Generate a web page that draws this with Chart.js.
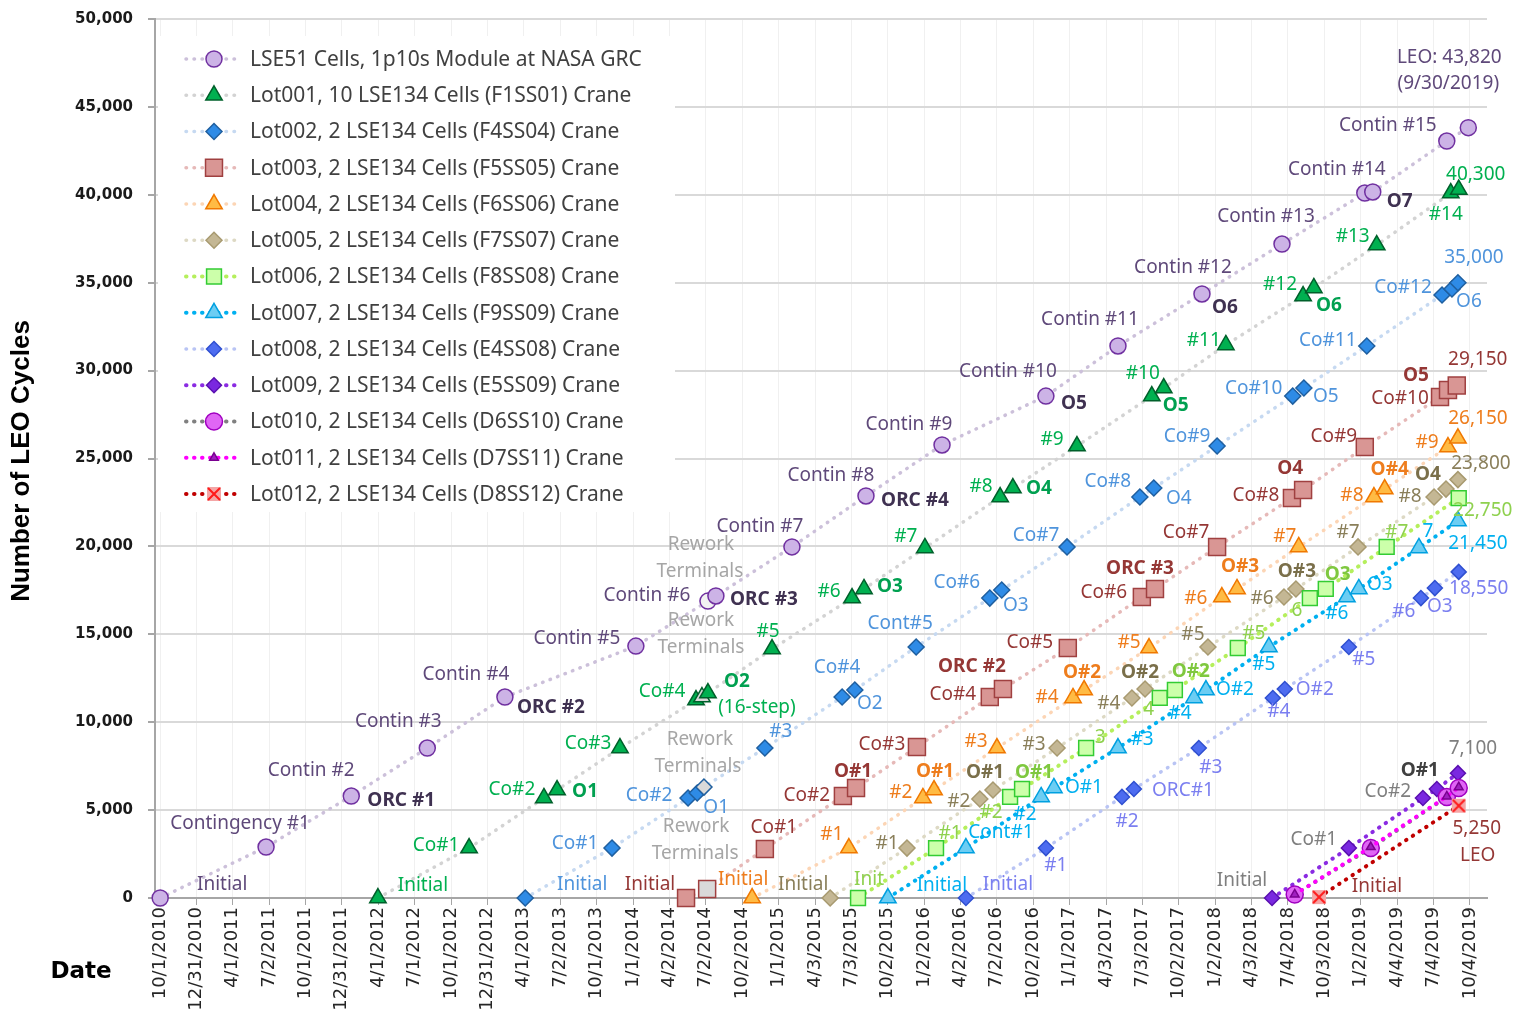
<!DOCTYPE html>
<html>
<head>
<meta charset="utf-8">
<script src="https://cdn.jsdelivr.net/npm/chart.js@4.4.1/dist/chart.umd.min.js"></script>
<style>
  html, body { margin: 0; padding: 0; background: #fff; }
</style>
</head>
<body>
<canvas id="myChart" width="1514" height="1016"></canvas>
<script>
// x values are days counted from 10/1/2010
var tickLabels = ['10/1/2010','12/31/2010','4/1/2011','7/2/2011','10/1/2011','12/31/2011','4/1/2012','7/1/2012',
  '10/1/2012','12/31/2012','4/1/2013','7/2/2013','10/1/2013','1/1/2014','4/2/2014','7/2/2014','10/2/2014',
  '1/1/2015','4/3/2015','7/3/2015','10/2/2015','1/2/2016','4/2/2016','7/2/2016','10/2/2016','1/1/2017',
  '4/3/2017','7/3/2017','10/2/2017','1/2/2018','4/3/2018','7/4/2018','10/3/2018','1/2/2019','4/4/2019',
  '7/4/2019','10/4/2019'];

var seriesNames = [
  'LSE51 Cells, 1p10s Module at NASA GRC',
  'Lot001, 10 LSE134 Cells (F1SS01) Crane',
  'Lot002, 2 LSE134 Cells (F4SS04) Crane',
  'Lot003, 2 LSE134 Cells (F5SS05) Crane',
  'Lot004, 2 LSE134 Cells (F6SS06) Crane',
  'Lot005, 2 LSE134 Cells (F7SS07) Crane',
  'Lot006, 2 LSE134 Cells (F8SS08) Crane',
  'Lot007, 2 LSE134 Cells (F9SS09) Crane',
  'Lot008, 2 LSE134 Cells (E4SS08) Crane',
  'Lot009, 2 LSE134 Cells (E5SS09) Crane',
  'Lot010, 2 LSE134 Cells (D6SS10) Crane',
  'Lot011, 2 LSE134 Cells (D7SS11) Crane',
  'Lot012, 2 LSE134 Cells (D8SS12) Crane'
];

var lse51Days = [0,266,480,671,866,1195,1376,1396,1587,1773,1964,2225,2406,2617,2818,3026,3046,3232,3286];
var lse51Cycles = [0,2900,5800,8530,11430,14330,16890,17180,19970,22870,25770,28550,31400,34360,37200,40100,40160,43060,43820];
var lot001Days = [547,776,964,997,1155,1346,1361,1376,1537,1738,1768,1921,2110,2142,2303,2491,2521,2677,2871,2898,3056,3242,3262];
var lot001Cycles = [0,2840,5690,6140,8530,11260,11430,11660,14160,17060,17580,19910,22810,23320,25710,28550,29010,31460,34240,34700,37140,40100,40300];
var lot002Days = [917,1135,1326,1349,1366,1519,1713,1745,1899,2084,2114,2278,2461,2496,2655,2845,2873,3031,3220,3245,3260];
var lot002Cycles = [0,2840,5690,5970,6310,8530,11430,11830,14280,17060,17520,19970,22810,23320,25710,28550,29010,31400,34300,34640,35000];
var lot003Days = [1321,1374,1519,1715,1748,1901,2084,2117,2280,2466,2499,2655,2843,2871,3026,3215,3235,3257];
var lot003Cycles = [0,510,2790,5800,6260,8590,11430,11890,14220,17120,17580,19970,22750,23210,25650,28500,28900,29150];
var lot004Days = [1487,1730,1916,1944,2102,2293,2321,2484,2667,2705,2860,3049,3076,3235,3260];
var lot004Cycles = [0,2840,5690,6140,8530,11380,11830,14220,17120,17580,19970,22810,23260,25650,26150];
var lot005Days = [1683,1876,2059,2092,2253,2441,2474,2632,2823,2853,3009,3200,3230,3260];
var lot005Cycles = [0,2840,5630,6140,8530,11380,11890,14280,17120,17580,19970,22810,23260,23800];
var lot006Days = [1753,1949,2135,2165,2326,2511,2549,2707,2888,2928,3081,3262];
var lot006Cycles = [0,2840,5750,6200,8530,11380,11830,14220,17060,17580,19970,22750];
var lot007Days = [1828,2024,2213,2245,2406,2597,2627,2785,2981,3011,3162,3260];
var lot007Cycles = [0,2840,5750,6260,8530,11380,11830,14280,17120,17580,19910,21450];
var lot008Days = [2024,2225,2416,2446,2609,2795,2825,2986,3167,3202,3262];
var lot008Cycles = [0,2840,5750,6200,8530,11380,11890,14280,17060,17630,18550];
var lot009Days = [2793,2986,3172,3207,3260];
var lot009Cycles = [0,2840,5690,6200,7100];
var lot010Days = [2850,3041,3232,3262];
var lot010Cycles = [200,2840,5750,6260];
var lot011Days = [2850,3041,3232,3262];
var lot011Cycles = [200,2900,5780,6300];
var lot012Days = [2911,3262];
var lot012Cycles = [50,5250];

// index of the "Rework Terminals" point in each series (-1 = none)
var reworkPoint = [6,6,4,1,-1,-1,-1,-1,-1,-1,-1,-1,-1];

var seriesDays = [lse51Days,lot001Days,lot002Days,lot003Days,lot004Days,lot005Days,lot006Days,lot007Days,lot008Days,lot009Days,lot010Days,lot011Days,lot012Days];
var seriesCycles = [lse51Cycles,lot001Cycles,lot002Cycles,lot003Cycles,lot004Cycles,lot005Cycles,lot006Cycles,lot007Cycles,lot008Cycles,lot009Cycles,lot010Cycles,lot011Cycles,lot012Cycles];

// point text: [series, point, text, dx, dy, bold, color]
var pointLabels = [
  [0,0,'Initial',62,-13],[0,1,'Contingency #1',-26,-23],[0,2,'Contin #2',-40,-25],[0,2,'ORC #1',50,5,1],
  [0,3,'Contin #3',-29,-26],[0,4,'Contin #4',-39,-22],[0,4,'ORC #2',46,11,1],[0,5,'Contin #5',-59,-7],
  [0,6,'Rework',-7,-56,0,'#a6a6a6'],[0,6,'Terminals',-8,-29,0,'#a6a6a6'],[0,7,'Contin #6',-69,0],[0,7,'ORC #3',48,4,1],
  [0,8,'Contin #7',-32,-20],[0,9,'Contin #8',-35,-20],[0,9,'ORC #4',49,5,1],[0,10,'Contin #9',-33,-20],
  [0,11,'Contin #10',-38,-24],[0,11,'O5',28,8,1],[0,12,'Contin #11',-28,-26],[0,13,'Contin #12',-19,-26],
  [0,13,'O6',23,14,1],[0,14,'Contin #13',-16,-27],[0,15,'Contin #14',-28,-23],[0,16,'O7',27,10,1],
  [0,17,'Contin #15',-59,-15],[0,18,'LEO: 43,820',-19,-70],[0,18,'(9/30/2019)',-20,-44],

  [1,0,'Initial',45,-12],[1,1,'Co#1',-33,-2],[1,2,'Co#2',-32,-8],[1,3,'O1',28,2,1],[1,4,'Co#3',-32,-4],
  [1,5,'Co#4',-34,-8],[1,6,'Rework',-1,-76,0,'#a6a6a6'],[1,6,'Terminals',-1,-49,0,'#a6a6a6'],[1,7,'O2',29,-11,1],
  [1,7,'(16-step)',49,15],[1,8,'#5',-4,-17],[1,9,'#6',-23,-6],[1,10,'O3',26,-2,1],[1,11,'#7',-19,-11],
  [1,12,'#8',-19,-10],[1,13,'O4',26,1,1],[1,14,'#9',-25,-6],[1,15,'#10',-9,-22],[1,16,'O5',12,18,1],
  [1,17,'#11',-22,-4],[1,18,'#12',-23,-11],[1,19,'O6',15,18,1],[1,20,'#13',-24,-8],[1,21,'#14',-5,22],
  [1,22,'40,300',17,-15],

  [2,0,'Initial',57,-13],[2,1,'Co#1',-37,-4],[2,2,'Co#2',-39,-2],[2,3,'O1',19,15],
  [2,4,'Rework',-4,-47,0,'#a6a6a6'],[2,4,'Terminals',-6,-20,0,'#a6a6a6'],[2,5,'#3',16,-16],[2,6,'Co#4',-5,-29],
  [2,7,'O2',15,14],[2,8,'Cont#5',-16,-23],[2,9,'Co#6',-33,-15],[2,10,'O3',14,16],[2,11,'Co#7',-31,-11],
  [2,12,'Co#8',-32,-15],[2,13,'O4',25,11],[2,14,'Co#9',-30,-9],[2,15,'Co#10',-39,-7],[2,16,'O5',22,9],
  [2,17,'Co#11',-39,-5],[2,18,'Co#12',-39,-7],[2,20,'O6',11,19],[2,20,'35,000',16,-25],

  [3,0,'Initial',-36,-13],[3,1,'Rework',-11,-62,0,'#a6a6a6'],[3,1,'Terminals',-12,-35,0,'#a6a6a6'],
  [3,2,'Co#1',9,-21],[3,3,'Co#2',-36,0],[3,4,'O#1',-3,-16,1],[3,5,'Co#3',-35,-2],[3,6,'Co#4',-37,-2],
  [3,7,'ORC #2',-31,-22,1],[3,8,'Co#5',-38,-5],[3,9,'Co#6',-38,-4],[3,10,'ORC #3',-15,-20,1],
  [3,11,'Co#7',-31,-14],[3,12,'Co#8',-36,-2],[3,13,'O4',-13,-21,1],[3,14,'Co#9',-31,-10],
  [3,15,'Co#10',-40,2],[3,16,'O5',-32,-14,1],[3,17,'29,150',21,-26],

  [4,0,'Initial',-9,-18],[4,1,'#1',-17,-13],[4,2,'#2',-22,-5],[4,3,'O#1',1,-18,1],[4,4,'#3',-21,-6],
  [4,5,'#4',-26,0],[4,6,'O#2',-2,-17,1],[4,7,'#5',-20,-5],[4,8,'#6',-26,2],[4,9,'O#3',3,-22,1],
  [4,10,'#7',-14,-10],[4,11,'#8',-22,-1],[4,12,'O#4',5,-19,1],[4,13,'#9',-21,-4],[4,14,'26,150',20,-20],

  [5,0,'Initial',-27,-13],[5,1,'#1',-20,-4],[5,2,'#2',-21,3],[5,3,'O#1',-8,-17,1],[5,4,'#3',-23,-3],
  [5,5,'#4',-23,6],[5,6,'O#2',-5,-16,1],[5,7,'#5',-15,-12],[5,8,'#6',-22,2],[5,9,'O#3',1,-17,1],
  [5,10,'#7',-10,-14],[5,11,'#8',-24,0],[5,12,'O4',-18,-14,1],[5,13,'23,800',23,-16],

  [6,0,'Init',11,-18],[6,1,'#1',14,-14],[6,2,'#2',-19,16],[6,3,'O#1',12,-16,1],[6,4,'3',14,-10],
  [6,5,'4',-11,12],[6,6,'O#2',16,-18,1],[6,7,'#5',16,-14],[6,8,'6',-13,13],[6,9,'O3',12,-14,1],
  [6,10,'#7',10,-14],[6,11,'22,750',24,13],

  [7,0,'Initial',54,-12],[7,1,'Cont#1',35,-15],[7,2,'#2',-16,18],[7,3,'O#1',30,0],[7,4,'#3',24,-8],
  [7,5,'#4',-14,16],[7,6,'O#2',29,0],[7,7,'#5',-5,18],[7,8,'#6',-10,17],[7,9,'O3',21,-4],
  [7,10,'7',9,-16],[7,11,'21,450',20,23],

  [8,0,'Initial',42,-13],[8,1,'#1',10,18],[8,2,'#2',5,25],[8,3,'ORC#1',49,2],[8,4,'#3',12,20],
  [8,5,'#4',6,14],[8,6,'O#2',30,1],[8,7,'#5',15,13],[8,8,'#6',-17,14],[8,9,'O3',5,19],[8,10,'18,550',20,17],

  [9,0,'Initial',-30,-17],[9,1,'Co#1',-35,-8],[9,2,'Co#2',-35,-6],[9,3,'O#1',-17,-18,1,'#404040'],[9,4,'7,100',15,-25],

  [12,0,'Initial',58,-11],[12,1,'5,250',18,23],[12,1,'LEO',19,50]
];

// styles
var lineColors = ['#ccc0da','#d3d3d3','#c6d9f1','#e6b9b8','#fcd5b5','#ddd9c4','#b5ef5c','#00b0f0','#b9c4f4','#8a2be2','#808080','#ff00ff','#c00000'];
var lineWidths = [3.5,3.5,3.5,3.5,3.5,3.5,4,4,3.5,4,4,4,4];
var markerFill = ['#ccb3e6','#00b050','#2e8be6','#d99694','#ffbb44','#c4b794','#ccffaa','#6ccdf3','#4d6cf0','#7a28e0','#e066f5','#a020c0',null];
var markerBorder = ['#7030a0','#00602b','#1f5f9f','#a04040','#f07800','#a89a70','#33cc33','#00a0e0','#3050d0','#5a10b0','#a000c0','#7a0090','#ff0000'];
var markerStyle = ['circle','triangle','rectRot','rect','triangle','rectRot','rect','triangle','rectRot','rectRot','circle','triangle',null];
var markerRadius = [8,9.5,8,12,9.5,8,10.5,9.5,7.5,7.5,8.5,5,8];
var labelColors = ['#5f497a','#00b050','#4f94dc','#953735','#ee7d1d','#8a7f5a','#8fd14f','#00b0f0','#7b7ff0','#7f7f7f','#7f7f7f','#7f7f7f','#953735'];
var boldColors = ['#3f3151','#00a050','#4f94dc','#953735','#ee7d1d','#7a6f4a','#7fc83f','#00b0f0','#7b7ff0','#404040','#404040','#404040','#953735'];

// red x marker with light fill for Lot012
var xMark = document.createElement('canvas');
xMark.width = 16; xMark.height = 16;
var xc = xMark.getContext('2d');
xc.fillStyle = '#f4a6a6';
xc.fillRect(1, 1, 14, 14);
xc.strokeStyle = '#ff1a1a';
xc.lineWidth = 2;
xc.beginPath();
xc.moveTo(2, 2); xc.lineTo(14, 14);
xc.moveTo(14, 2); xc.lineTo(2, 14);
xc.stroke();
markerStyle[12] = xMark;

var DAY0 = Date.UTC(2010, 9, 1);
function dayOf(s) {
  var p = s.split('/');
  return Math.round((Date.UTC(+p[2], +p[0] - 1, +p[1]) - DAY0) / 86400000);
}
var tickDays = tickLabels.map(dayOf);

var datasets = seriesNames.map(function(name, i) {
  var days = seriesDays[i];
  return {
    label: name,
    data: days.map(function(d, j) { return { x: d, y: seriesCycles[i][j] }; }),
    borderColor: lineColors[i],
    borderWidth: lineWidths[i],
    borderDash: [0.5, 7.5],
    borderCapStyle: 'round',
    pointStyle: markerStyle[i],
    pointRadius: markerRadius[i],
    pointHoverRadius: markerRadius[i],
    pointBackgroundColor: days.map(function(d, j) {
      if (j === reworkPoint[i]) return i === 0 ? '#f2f2f2' : '#d9d9d9';
      return markerFill[i] || 'rgba(0,0,0,0)';
    }),
    pointBorderColor: markerBorder[i],
    pointBorderWidth: 1.5,
    legendFill: markerFill[i] || 'rgba(0,0,0,0)',
    fill: false,
    tension: 0,
    clip: false,
    order: -i
  };
});

var boxLegend = {
  id: 'boxLegend',
  beforeDatasetsDraw: function(chart) {
    var ctx = chart.ctx;
    ctx.save();
    ctx.fillStyle = '#ffffff';
    ctx.fillRect(158, 36, 675 - 158, 512 - 36);
    chart.data.datasets.forEach(function(ds, i) {
      var y = 59 + i * 36.25;
      ctx.save();
      ctx.strokeStyle = ds.borderColor;
      ctx.lineWidth = ds.borderWidth;
      ctx.lineCap = 'round';
      ctx.setLineDash(ds.borderDash);
      ctx.beginPath();
      ctx.moveTo(186, y);
      ctx.lineTo(242, y);
      ctx.stroke();
      ctx.restore();
      ctx.save();
      ctx.fillStyle = ds.legendFill;
      ctx.strokeStyle = ds.pointBorderColor;
      ctx.lineWidth = ds.pointBorderWidth;
      Chart.helpers.drawPoint(ctx, {
        pointStyle: ds.pointStyle, radius: ds.pointRadius, rotation: 0, borderWidth: ds.pointBorderWidth
      }, 214, y);
      ctx.restore();
      ctx.fillStyle = '#404040';
      ctx.font = '21px "Noto Sans"';
      ctx.textBaseline = 'middle';
      ctx.textAlign = 'left';
      ctx.fillText(ds.label, 250, y + 1);
    });
    ctx.restore();
  }
};

var pointText = {
  id: 'pointText',
  afterDatasetsDraw: function(chart) {
    var ctx = chart.ctx;
    ctx.save();
    ctx.textAlign = 'center';
    ctx.textBaseline = 'middle';
    pointLabels.forEach(function(l) {
      var el = chart.getDatasetMeta(l[0]).data[l[1]];
      if (!el) return;
      ctx.font = (l[5] ? 'bold ' : '') + '19px "Noto Sans"';
      ctx.fillStyle = l[6] || (l[5] ? boldColors[l[0]] : labelColors[l[0]]);
      ctx.fillText(l[2], el.x + l[3], el.y + l[4]);
    });
    ctx.restore();
  }
};

var axisTitles = {
  id: 'axisTitles',
  afterDraw: function(chart) {
    var ctx = chart.ctx;
    ctx.save();
    ctx.fillStyle = '#000000';
    ctx.textAlign = 'center';
    ctx.textBaseline = 'middle';
    // y title, fitted to the length it has in the picture
    var size = 26;
    ctx.font = 'bold ' + size + 'px "Liberation Sans Narrow", "Liberation Sans", Arial';
    var w = ctx.measureText('Number of LEO Cycles').width;
    if (w > 287) {
      size = size * 287 / w;
      ctx.font = 'bold ' + size + 'px "Liberation Sans Narrow", "Liberation Sans", Arial';
    }
    ctx.translate(22, 461);
    ctx.rotate(-Math.PI / 2);
    ctx.fillText('Number of LEO Cycles', 0, 0);
    ctx.restore();
    ctx.save();
    ctx.fillStyle = '#000000';
    ctx.textAlign = 'center';
    ctx.textBaseline = 'middle';
    ctx.font = 'bold 23px "DejaVu Sans"';
    ctx.fillText('Date', 81, 972);
    ctx.restore();
  }
};

var ctx = document.getElementById('myChart');
var myChart = new Chart(ctx, {
  type: 'line',
  data: { datasets: datasets },
  options: {
    responsive: false,
    animation: false,
    devicePixelRatio: 1,
    layout: { padding: { top: 19, right: 27, left: 0, bottom: 0 } },
    plugins: { legend: { display: false }, tooltip: { enabled: false } },
    scales: {
      x: {
        type: 'linear',
        min: -13,
        max: 3333,
        afterBuildTicks: function(scale) {
          scale.ticks = tickDays.map(function(v) { return { value: v }; });
        },
        afterFit: function(scale) { scale.height = 118; },
        ticks: {
          autoSkip: false,
          minRotation: 90,
          maxRotation: 90,
          padding: 2,
          color: '#262626',
          font: { family: 'DejaVu Sans', size: 18 },
          callback: function(v) { return tickLabels[tickDays.indexOf(v)]; }
        },
        grid: { color: '#f0f0f0', lineWidth: 1, tickLength: 7, tickColor: '#a6a6a6' },
        border: { color: '#a6a6a6', width: 2 }
      },
      y: {
        min: 0,
        max: 50000,
        afterFit: function(scale) {
          scale.width = 155;
          scale.paddingTop = 0;
          scale.paddingBottom = 0;
        },
        ticks: {
          stepSize: 5000,
          padding: 15,
          color: '#1a1a1a',
          font: { family: 'DejaVu Sans', size: 15, weight: 'bold' },
          callback: function(v) { return v.toLocaleString('en-US'); }
        },
        grid: { color: '#d9d9d9', lineWidth: 2, tickLength: 7, tickColor: '#a6a6a6' },
        border: { color: '#a6a6a6', width: 2 }
      }
    }
  },
  plugins: [boxLegend, pointText, axisTitles]
});
</script>
</body>
</html>
